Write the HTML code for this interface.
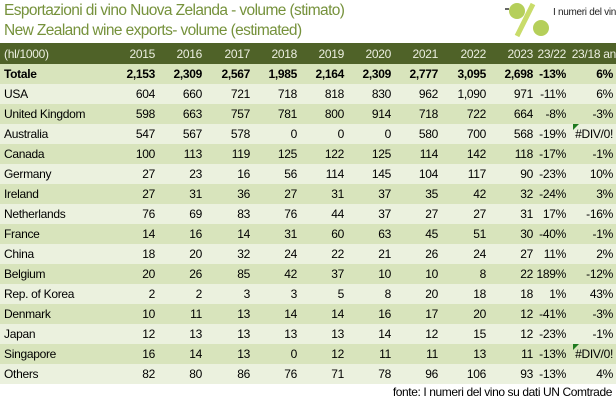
<!DOCTYPE html>
<html><head><meta charset="utf-8"><style>
body{margin:0;width:616px;height:403px;background:#fff;overflow:hidden;font-family:"Liberation Sans",sans-serif;position:relative}
.t{position:absolute;left:4px;color:#76923c;font-size:15.5px;letter-spacing:-0.6px;white-space:nowrap}
.row{position:absolute;left:0;width:616px;height:20px;font-size:12px;letter-spacing:-0.3px;color:#000}
.row span{position:absolute;top:3px;white-space:nowrap}
.hdr{background:#4f6228;color:#fff;top:43px;height:21px}
.hdr span{color:#ecefe0;top:4px}
.a{background:#d8e4bc}.b{background:#ebf1de}
.tot{font-weight:bold}
.tri{position:absolute;left:573px;top:0;width:0;height:0;border-top:6px solid #1f7a1f;border-right:6px solid transparent}
</style></head><body>
<div class="t" style="top:2px">Esportazioni di vino Nuova Zelanda - volume (stimato)</div>
<div class="t" style="top:22px">New Zealand wine exports- volume (estimated)</div>
<div style="position:absolute;left:503px;top:0;width:113px;height:40px">
<svg width="48" height="40"><circle cx="14" cy="11" r="8" fill="#b5cf5a"/><line x1="14" y1="36" x2="30" y2="4" stroke="#c9dc6a" stroke-width="5"/><circle cx="38" cy="28" r="8" fill="#b5cf5a"/><line x1="6" y1="9" x2="2" y2="9" stroke="#666" stroke-width="2"/></svg>
<span style="position:absolute;left:50px;top:7px;font-size:10px;letter-spacing:-0.3px;color:#222;white-space:nowrap">I numeri del vino</span>
</div>
<div id="tbl"></div>
<div style="position:absolute;right:4px;top:385px;font-size:12px;color:#000;letter-spacing:-0.4px">fonte: I numeri del vino su dati UN Comtrade</div>
<script>
const headers=["2015","2016","2017","2018","2019","2020","2021","2022","2023","23/22","23/18 an"];
const countries=["Totale","USA","United Kingdom","Australia","Canada","Germany","Ireland","Netherlands","France","China","Belgium","Rep. of Korea","Denmark","Japan","Singapore","Others"];
const values=[
["2,153","2,309","2,567","1,985","2,164","2,309","2,777","3,095","2,698","-13%","6%"],
["604","660","721","718","818","830","962","1,090","971","-11%","6%"],
["598","663","757","781","800","914","718","722","664","-8%","-3%"],
["547","567","578","0","0","0","580","700","568","-19%","#DIV/0!"],
["100","113","119","125","122","125","114","142","118","-17%","-1%"],
["27","23","16","56","114","145","104","117","90","-23%","10%"],
["27","31","36","27","31","37","35","42","32","-24%","3%"],
["76","69","83","76","44","37","27","27","31","17%","-16%"],
["14","16","14","31","60","63","45","51","30","-40%","-1%"],
["18","20","32","24","22","21","26","24","27","11%","2%"],
["20","26","85","42","37","10","10","8","22","189%","-12%"],
["2","2","3","3","5","8","20","18","18","1%","43%"],
["10","11","13","14","14","16","17","20","12","-41%","-3%"],
["12","13","13","13","13","14","12","15","12","-23%","-1%"],
["16","14","13","0","12","11","11","13","11","-13%","#DIV/0!"],
["82","80","86","76","71","78","96","106","93","-13%","4%"]];
const rights=[155,202,250,297,344,391,438,486,533,566,613];
const tbl=document.getElementById('tbl');
function mk(cls,top,label,cells,rowName){
 const r=document.createElement('div');
 r.className='row '+cls;r.style.top=top+'px';
 
 
 const l=document.createElement('span');l.style.left='4px';l.textContent=label;
 
 
 r.appendChild(l);
 cells.forEach((c,i)=>{const s=document.createElement('span');
  s.style.right=(616-rights[i]+(i==10&&cls.indexOf('hdr')>=0?-3:0))+'px';s.textContent=c;
  
  
  r.appendChild(s);
  if(c==='#DIV/0!'){const t=document.createElement('div');t.className='tri';
   
   
   r.appendChild(t);}
 });
 tbl.appendChild(r);
}
mk('hdr',43,'(hl/1000)',headers,'header-row');
countries.forEach((c,i)=>mk((i%2==0?'a':'b')+(i==0?' tot':''),64+i*20,c,values[i],'row-'+c.toLowerCase().replace(/[^a-z]+/g,'-')));
</script>
</body></html>
